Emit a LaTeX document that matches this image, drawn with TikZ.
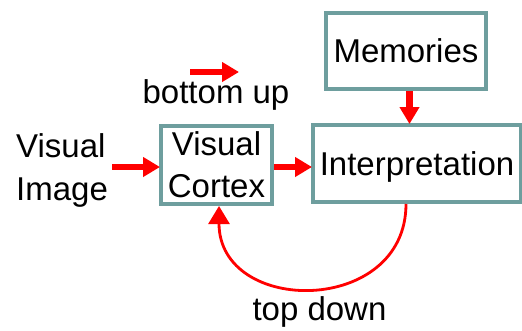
\documentclass[tikz,border=0pt]{standalone}
\usepackage{fontspec}
\setmainfont{Liberation Sans}
\usetikzlibrary{arrows.meta}
\definecolor{boxteal}{RGB}{110,158,158}
\definecolor{flowred}{RGB}{255,0,0}
\begin{document}
\begin{tikzpicture}[x=1pt,y=-1pt,
  every node/.style={font=\fontsize{33}{42}\selectfont},
  stagebox/.style={draw=boxteal,line width=4pt,fill=white,inner sep=0pt,align=center},
  plain/.style={inner sep=0pt,align=left},
  flow/.style={draw=flowred,line width=6.5pt,
    -{Triangle[width=19pt,length=17pt]},shorten >=-1pt},
  feedback/.style={draw=flowred,line width=2.8pt,
    -{Triangle[width=21pt,length=18pt]}}]
\useasboundingbox (0,0) rectangle (522,330);

% processing stages
\node[stagebox,minimum width=160pt,minimum height=76pt] (mem) at (406,51) {Memories};
\node[stagebox,minimum width=208pt,minimum height=77pt,text depth=0pt] (interp) at (417,163.5) {Interpretation};
\node[stagebox,minimum width=111pt,minimum height=78pt] (vc) at (216.5,165) {Visual\\Cortex};

% input and labels
\node[plain,anchor=base west] (vis) at (16,157) {Visual};
\node[plain,anchor=base west] (img) at (16,200) {Image};
\node[plain,anchor=base] (bu) at (216,103) {bottom up};
\node[plain,anchor=base] (td) at (319.5,320) {top down};

\coordinate (inStart) at (112,167);
\coordinate (buStart) at (190,72);
\coordinate (buEnd) at (238,72);

% forward flow
\draw[flow] (inStart) -- (vc.west |- inStart);
\draw[flow] (vc.east |- inStart) -- (interp.west |- inStart);
\draw[flow] (mem.south -| 409.5,0) -- (interp.north -| 409.5,0);
\draw[flow] (buStart) -- (buEnd);

% top-down feedback loop
\draw[feedback] (interp.south -| 406,0) .. controls (406,316) and (219,316) .. (vc.south -| 219,0);
\end{tikzpicture}
\end{document}
